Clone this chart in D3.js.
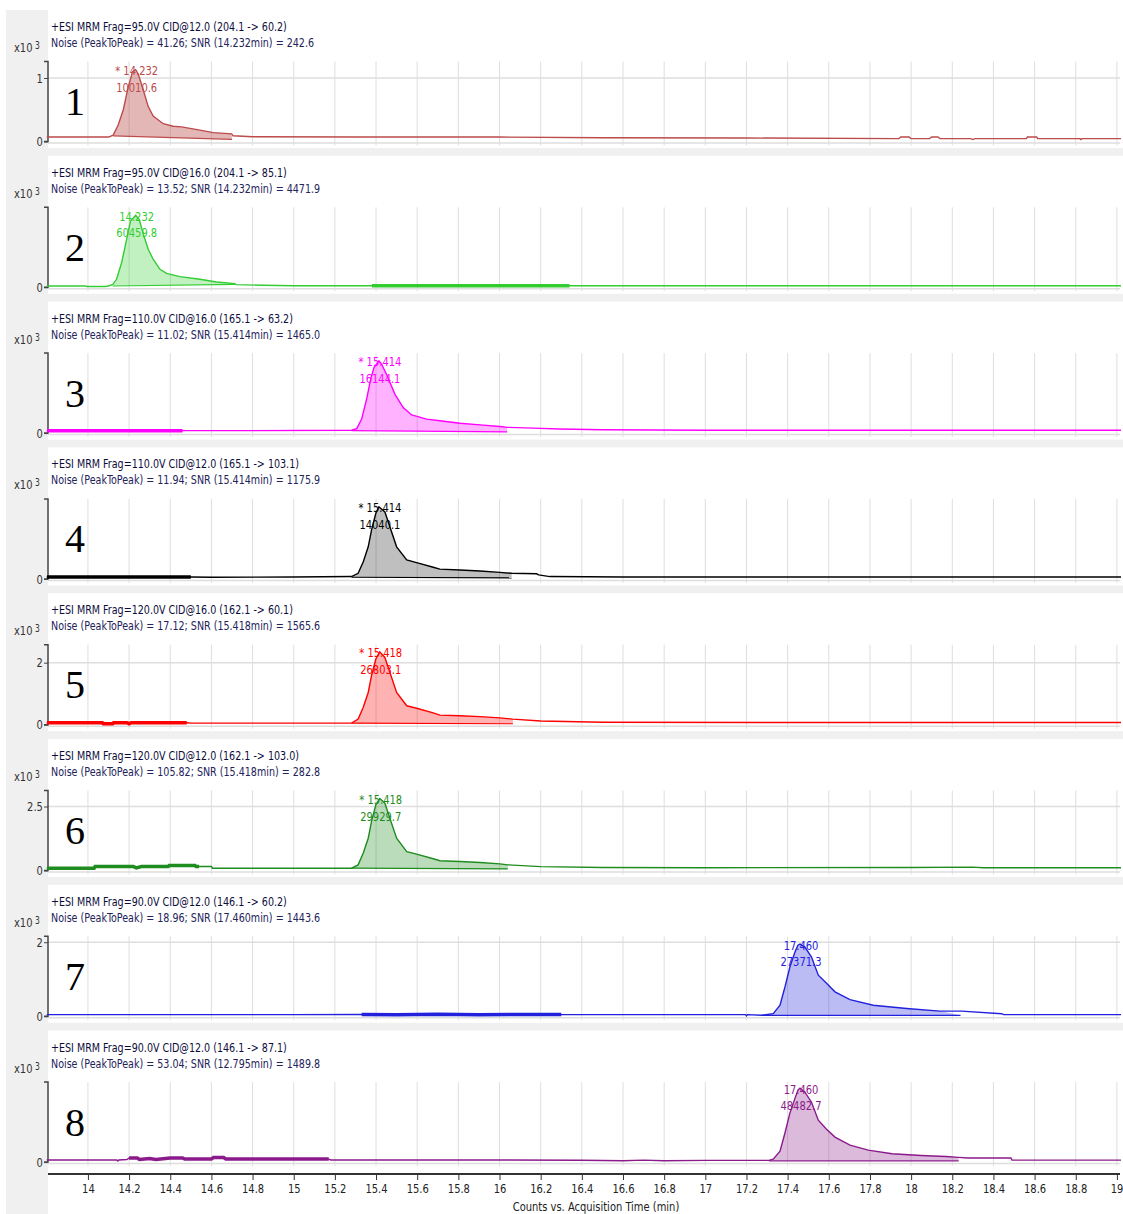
<!DOCTYPE html>
<html>
<head>
<meta charset="utf-8">
<script src="https://cdn.jsdelivr.net/npm/d3@7"></script>
<style>
  body { margin: 0; background: #fff; }
  svg { display: block; }
  text { font-family: "Liberation Sans Narrow", "DejaVu Sans Condensed", "Arial Narrow", sans-serif; }
</style>
</head>
<body>
<svg id="chart"></svg>
<script>
// ---- data (counts in x10^3, time in min) ----
const titles = [
  "+ESI MRM Frag=95.0V CID@12.0 (204.1 -> 60.2)",
  "+ESI MRM Frag=95.0V CID@16.0 (204.1 -> 85.1)",
  "+ESI MRM Frag=110.0V CID@16.0 (165.1 -> 63.2)",
  "+ESI MRM Frag=110.0V CID@12.0 (165.1 -> 103.1)",
  "+ESI MRM Frag=120.0V CID@16.0 (162.1 -> 60.1)",
  "+ESI MRM Frag=120.0V CID@12.0 (162.1 -> 103.0)",
  "+ESI MRM Frag=90.0V CID@12.0 (146.1 -> 60.2)",
  "+ESI MRM Frag=90.0V CID@12.0 (146.1 -> 87.1)"
];
const noiseLines = [
  "Noise (PeakToPeak) = 41.26; SNR (14.232min) = 242.6",
  "Noise (PeakToPeak) = 13.52; SNR (14.232min) = 4471.9",
  "Noise (PeakToPeak) = 11.02; SNR (15.414min) = 1465.0",
  "Noise (PeakToPeak) = 11.94; SNR (15.414min) = 1175.9",
  "Noise (PeakToPeak) = 17.12; SNR (15.418min) = 1565.6",
  "Noise (PeakToPeak) = 105.82; SNR (15.418min) = 282.8",
  "Noise (PeakToPeak) = 18.96; SNR (17.460min) = 1443.6",
  "Noise (PeakToPeak) = 53.04; SNR (12.795min) = 1489.8"
];
const peakTimes = ["14.232", "14.232", "15.414", "15.414", "15.418", "15.418", "17.460", "17.460"];
const peakAreas = ["10010.6", "60459.8", "16144.1", "14040.1", "26803.1", "29929.7", "27371.3", "48482.7"];
const peakStar = [true, false, true, true, true, true, false, false];
const panelNumbers = ["1", "2", "3", "4", "5", "6", "7", "8"];
const colors = ["#bc4b4b", "#33cc33", "#ff00ff", "#000000", "#ff0000", "#1e8c1e", "#2222dd", "#8b1a8b"];
const fillOpacity = [0.4, 0.3, 0.3, 0.25, 0.3, 0.3, 0.3, 0.3];
const yMax = [1.26, 7.5, 1.94, 1.72, 2.58, 3.125, 2.16, 3.74];
const yTicks = [[0, 1], [0], [0], [0], [0, 2], [0, 2.5], [0, 2], [0]];
const xTicks = [14, 14.2, 14.4, 14.6, 14.8, 15, 15.2, 15.4, 15.6, 15.8, 16, 16.2, 16.4, 16.6, 16.8,
                17, 17.2, 17.4, 17.6, 17.8, 18, 18.2, 18.4, 18.6, 18.8, 19];
const xDomain = [13.806, 19.015];
// thicker (noise) stretches of each trace: [from, to] min
const noiseRanges = [null, [15.38, 16.34], [13.8, 14.46], [13.8, 14.5], [13.8, 14.48],
                     [13.8, 14.54], [15.33, 16.3], [14.2, 15.17]];
// integration baseline: [tStart, vStart, tEnd, vEnd]
const integrations = [
  [14.123, 0.09, 14.70, 0.035],
  [14.12, 0.12, 14.714, 0.28],
  [15.281, 0.06, 16.037, 0.03],
  [15.281, 0.036, 16.059, 0.02],
  [15.281, 0.05, 16.065, 0.03],
  [15.281, 0.09, 16.04, 0.06],
  [17.274, 0.027, 18.24, 0.027],
  [17.309, 0.06, 18.231, 0.06]
];

const trace1 = [[13.80,0.07],[14.10,0.07],[14.123,0.10],[14.147,0.26],[14.172,0.50],[14.196,0.86],[14.217,1.10],
  [14.232,1.13],[14.245,1.06],[14.269,0.81],[14.293,0.55],[14.317,0.40],[14.366,0.28],[14.414,0.24],[14.455,0.23],
  [14.544,0.18],[14.609,0.14],[14.698,0.12],[14.705,0.09],[14.80,0.075],[15.30,0.07],[16.00,0.07],[16.50,0.06],
  [17.20,0.055],[17.94,0.045],[17.95,0.07],[17.99,0.07],[18.00,0.045],[18.09,0.045],[18.10,0.07],[18.13,0.07],
  [18.14,0.045],[18.29,0.045],[18.30,0.03],[18.31,0.045],[18.56,0.045],[18.565,0.07],[18.61,0.07],[18.615,0.045],
  [18.82,0.045],[18.825,0.03],[18.83,0.045],[19.02,0.045]];
const trace2 = [[13.80,0.12],[13.99,0.12],[13.995,0.07],[14.083,0.07],[14.10,0.12],[14.121,0.28],[14.139,0.75],
  [14.164,2.32],[14.188,4.50],[14.207,6.22],[14.232,6.75],[14.249,6.38],[14.272,4.81],[14.293,3.56],[14.317,2.63],
  [14.350,1.69],[14.382,1.31],[14.447,1.00],[14.544,0.75],[14.625,0.50],[14.714,0.35],[14.72,0.25],[14.85,0.19],
  [15.0,0.15],[15.5,0.14],[16.5,0.14],[17.5,0.14],[18.5,0.14],[19.02,0.14]];
const trace3 = [[13.80,0.06],[14.46,0.06],[14.8,0.06],[15.281,0.07],[15.306,0.11],[15.330,0.34],[15.354,0.82],
  [15.374,1.31],[15.390,1.59],[15.414,1.75],[15.427,1.67],[15.454,1.39],[15.492,0.94],[15.532,0.62],[15.573,0.44],
  [15.646,0.34],[15.710,0.30],[15.808,0.24],[15.905,0.20],[16.002,0.16],[16.037,0.14],[16.162,0.12],[16.293,0.10],
  [16.5,0.08],[17.0,0.07],[18.0,0.07],[19.02,0.07]];
const trace4 = [[13.80,0.04],[14.5,0.04],[14.6,0.035],[15.0,0.04],[15.281,0.05],[15.313,0.12],[15.338,0.37],
  [15.362,0.69],[15.378,1.05],[15.399,1.41],[15.414,1.55],[15.443,1.44],[15.467,1.12],[15.500,0.69],[15.549,0.41],
  [15.597,0.35],[15.678,0.25],[15.710,0.21],[15.808,0.19],[15.905,0.17],[16.002,0.14],[16.059,0.12],[16.18,0.11],
  [16.19,0.086],[16.245,0.05],[16.6,0.04],[17.5,0.04],[18.5,0.04],[19.02,0.04]];
const trace5 = [[13.80,0.065],[14.07,0.065],[14.075,0.03],[14.12,0.03],[14.125,0.065],[14.19,0.065],[14.20,0.03],
  [14.21,0.065],[14.48,0.065],[14.5,0.05],[15.281,0.05],[15.313,0.18],[15.338,0.56],[15.362,1.04],[15.378,1.58],
  [15.399,2.12],[15.418,2.35],[15.443,2.17],[15.467,1.69],[15.500,1.04],[15.549,0.61],[15.597,0.53],[15.678,0.38],
  [15.710,0.31],[15.808,0.29],[15.905,0.26],[16.002,0.22],[16.065,0.18],[16.2,0.12],[16.5,0.08],[17.5,0.07],
  [18.5,0.07],[19.02,0.07]];
const trace6 = [[13.80,0.09],[14.03,0.09],[14.035,0.155],[14.22,0.155],[14.235,0.10],[14.26,0.155],[14.39,0.155],
  [14.395,0.195],[14.52,0.195],[14.525,0.155],[14.60,0.155],[14.605,0.09],[15.281,0.09],[15.313,0.22],[15.338,0.68],
  [15.362,1.26],[15.378,1.91],[15.399,2.57],[15.418,2.81],[15.443,2.63],[15.467,2.04],[15.500,1.26],[15.549,0.74],
  [15.597,0.64],[15.678,0.46],[15.710,0.38],[15.808,0.35],[15.905,0.31],[16.002,0.26],[16.04,0.22],[16.2,0.15],
  [16.5,0.12],[17.0,0.11],[18.0,0.12],[18.3,0.13],[18.35,0.11],[19.02,0.11]];
const trace7 = [[13.80,0.046],[15.0,0.046],[15.33,0.05],[15.5,0.04],[15.7,0.055],[15.9,0.04],[16.1,0.05],
  [16.3,0.046],[17.0,0.046],[17.195,0.046],[17.20,0.01],[17.205,0.046],[17.274,0.027],[17.330,0.073],[17.363,0.30],
  [17.387,0.79],[17.411,1.33],[17.436,1.74],[17.450,1.92],[17.460,1.95],[17.484,1.87],[17.516,1.60],[17.549,1.11],
  [17.589,0.89],[17.630,0.66],[17.703,0.45],[17.816,0.30],[17.978,0.21],[18.140,0.14],[18.245,0.14],[18.44,0.07],
  [18.45,0.046],[19.02,0.046]];
const trace8 = [[13.80,0.10],[14.14,0.10],[14.145,0.05],[14.15,0.10],[14.19,0.12],[14.20,0.19],[14.24,0.19],
  [14.25,0.12],[14.30,0.17],[14.33,0.12],[14.40,0.19],[14.46,0.19],[14.47,0.14],[14.60,0.14],[14.61,0.21],
  [14.66,0.21],[14.67,0.14],[15.17,0.14],[15.18,0.10],[16.0,0.10],[16.4,0.09],[16.6,0.06],[16.7,0.09],[16.8,0.06],
  [17.0,0.08],[17.309,0.08],[17.33,0.14],[17.363,0.51],[17.387,1.36],[17.411,2.29],[17.436,2.99],[17.450,3.36],
  [17.460,3.46],[17.484,3.27],[17.516,2.80],[17.549,1.96],[17.589,1.54],[17.630,1.17],[17.703,0.79],[17.792,0.56],
  [17.907,0.39],[18.048,0.31],[18.169,0.26],[18.231,0.22],[18.276,0.19],[18.485,0.19],[18.49,0.093],[19.02,0.093]];
const traces = [trace1, trace2, trace3, trace4, trace5, trace6, trace7, trace8];

// ---- layout ----
const W = 1123, H = 1214;
const left = 48, right = 1120;
const firstZero = 141.5, pitch = 145.8, plotH = 80;
const squeeze = 0.85; // the reference text is horizontally narrow

const svg = d3.select("#chart").attr("width", W).attr("height", H);
svg.append("rect").attr("width", W).attr("height", H).attr("fill", "#fff");
svg.append("rect").attr("x", 6).attr("y", 10).attr("width", W - 6).attr("height", H - 10).attr("fill", "#f0f0f0");

const x = d3.scaleLinear().domain(xDomain).range([left, right]);

// narrow text helper
const addText = (g, tx, ty, str, size, fill, anchor) =>
  g.append("text")
    .attr("transform", `translate(${tx},${ty}) scale(${squeeze},1)`)
    .attr("text-anchor", anchor || "start")
    .attr("fill", fill).style("font-size", size + "px")
    .text(str);

traces.forEach((data, i) => {
  const zero = firstZero + pitch * i;
  const top = zero - plotH;
  const y = d3.scaleLinear().domain([0, yMax[i]]).range([zero, top]);
  const col = colors[i];

  // white panel
  svg.append("rect")
    .attr("x", left).attr("y", zero - 131.5)
    .attr("width", W - left).attr("height", i === 7 ? H - (zero - 131.5) : 138)
    .attr("fill", "#fff");

  const g = svg.append("g");

  // grid
  g.selectAll(".vg").data(xTicks).enter().append("line")
    .attr("x1", d => x(d)).attr("x2", d => x(d))
    .attr("y1", top).attr("y2", zero + 4)
    .attr("stroke", "#dedede").attr("stroke-width", 1);
  g.selectAll(".hg").data(yTicks[i]).enter().append("line")
    .attr("x1", left).attr("x2", right)
    .attr("y1", d => y(d) + (d === 0 ? 1.5 : 0)).attr("y2", d => y(d) + (d === 0 ? 1.5 : 0))
    .attr("stroke", "#dedede").attr("stroke-width", 1.5);

  // y axis
  const yAxis = d3.axisLeft(y).tickValues(yTicks[i]).tickSize(4).tickPadding(2)
    .tickFormat(d => d === 0 ? "0" : String(d));
  const ya = g.append("g").attr("transform", `translate(${left},0)`).call(yAxis);
  ya.select(".domain").attr("stroke", "#444").attr("stroke-width", 1.5)
    .attr("d", `M-4,${top}H0V${zero}H-4`);
  ya.selectAll(".tick line").attr("stroke", "#444");
  ya.selectAll(".tick text").attr("fill", "#333").style("font-size", "13px")
    .attr("transform", `scale(${squeeze},1)`)
    .style("font-family", "'Liberation Sans Narrow', 'DejaVu Sans Condensed', sans-serif");

  // x10^3 label
  const ex = g.append("text").attr("transform", `translate(14,${zero - 89.5}) scale(${squeeze},1)`)
    .attr("fill", "#333").style("font-size", "13px");
  ex.append("tspan").text("x10");
  ex.append("tspan").attr("dx", 3).attr("dy", -3).style("font-size", "10px").text("3");

  // headers
  addText(g, 51, zero - 110.5, titles[i], 12.5, "#0c0c3c");
  addText(g, 51, zero - 94.5, noiseLines[i], 12.5, "#23235a");

  // integrated area
  const [t0, v0, t1, v1] = integrations[i];
  const base = d3.scaleLinear().domain([t0, t1]).range([v0, v1]);
  const seg = data.filter(d => d[0] >= t0 && d[0] <= t1);
  const area = d3.area()
    .x(d => x(d[0]))
    .y0(d => y(base(d[0])))
    .y1(d => y(d[1]));
  g.append("path").datum([[t0, v0], ...seg, [t1, v1]])
    .attr("d", area)
    .attr("fill", col).attr("fill-opacity", fillOpacity[i]).attr("stroke", "none");
  g.append("line")
    .attr("x1", x(t0)).attr("y1", y(v0)).attr("x2", x(t1)).attr("y2", y(v1))
    .attr("stroke", col).attr("stroke-width", 1.2);

  // trace
  const line = d3.line().x(d => x(d[0])).y(d => y(d[1]));
  g.append("path").datum(data).attr("d", line)
    .attr("fill", "none").attr("stroke", col).attr("stroke-width", 1.4);

  // thick noise stretch
  if (noiseRanges[i]) {
    const [a, b] = noiseRanges[i];
    const clipId = "noise-clip-" + i;
    svg.append("clipPath").attr("id", clipId).append("rect")
      .attr("x", x(a)).attr("y", top).attr("width", x(b) - x(a)).attr("height", plotH + 5);
    g.append("path").datum(data).attr("d", line)
      .attr("clip-path", `url(#${clipId})`)
      .attr("fill", "none").attr("stroke", col).attr("stroke-width", 3.5);
  }

  // panel number
  g.append("text").attr("x", 75).attr("y", zero - 26.5).attr("text-anchor", "middle")
    .style("font-family", "'Liberation Serif', 'DejaVu Serif', serif").style("font-size", "40px")
    .attr("fill", "#000").text(panelNumbers[i]);

  // peak label
  const apex = data.find(d => d[0] === +peakTimes[i]);
  const ax = x(apex[0]) + 1, ay = y(apex[1]);
  addText(g, ax, ay + 5.5, (peakStar[i] ? "* " : "") + peakTimes[i], 13, col, "middle");
  addText(g, ax, ay + 22, peakAreas[i], 13, col, "middle");
});

// bottom time axis
const axisY = 1174;
const xAxis = d3.axisBottom(x).tickValues(xTicks).tickSize(6).tickPadding(4)
  .tickFormat(d => String(+d.toFixed(1)));
const xa = svg.append("g").attr("transform", `translate(0,${axisY})`).call(xAxis);
xa.select(".domain").attr("stroke", "#333").attr("stroke-width", 2)
  .attr("d", `M${left},0H${right}`);
xa.selectAll(".tick line").attr("stroke", "#333");
xa.selectAll(".tick text").attr("fill", "#222").style("font-size", "13px")
  .attr("transform", `scale(${squeeze},1)`)
  .style("font-family", "'Liberation Sans Narrow', 'DejaVu Sans Condensed', sans-serif");
// keep the last label inside the page edge
xa.selectAll(".tick text").filter(d => d === 19).attr("text-anchor", "end").attr("x", 7);

addText(svg, 596, 1211, "Counts vs. Acquisition Time (min)", 13, "#222", "middle");
</script>
</body>
</html>
